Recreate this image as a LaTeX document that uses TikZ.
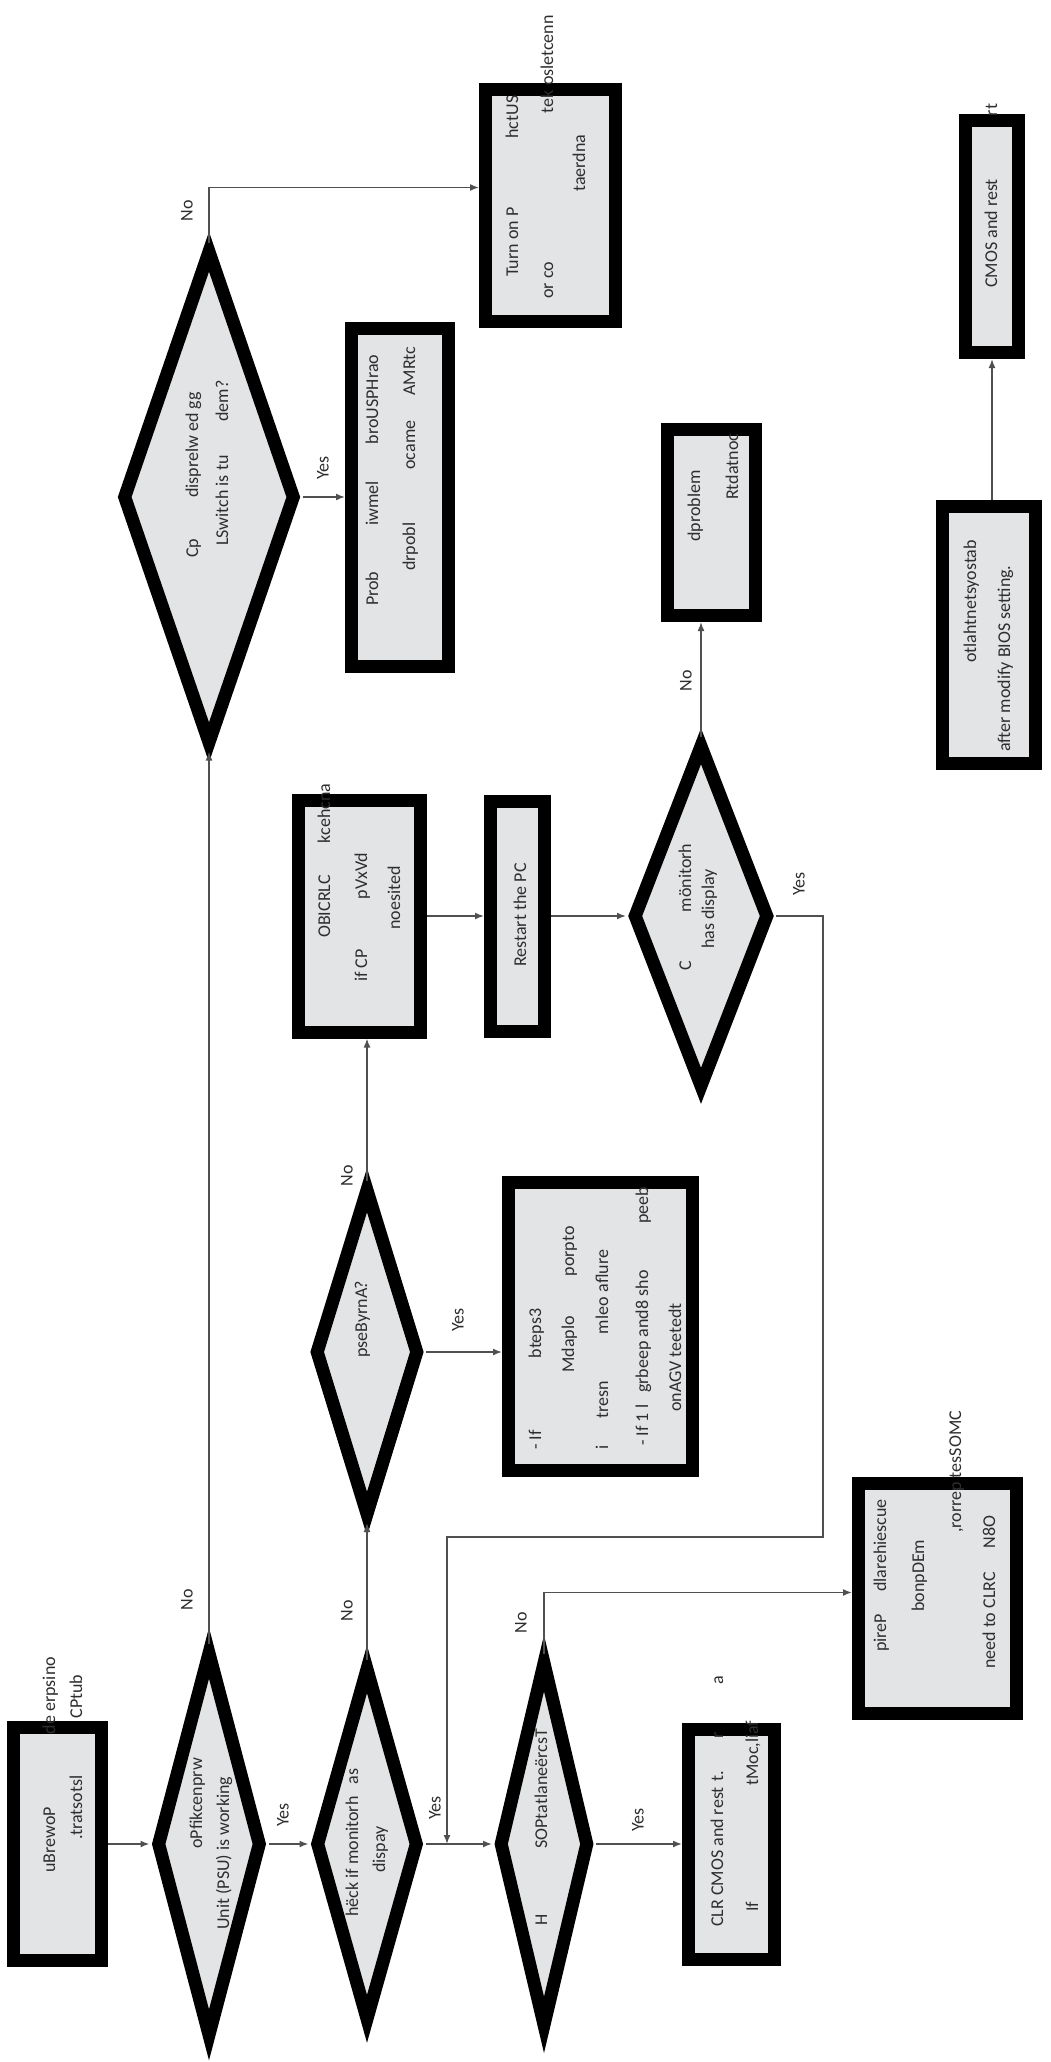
\documentclass[tikz,border=0pt]{standalone}
\usepackage{fontspec}
\setmainfont{Carlito}
\usetikzlibrary{shapes.geometric,arrows.meta}

\definecolor{boxfill}{HTML}{E3E4E6}
\definecolor{inkgray}{HTML}{2E2E2E}
\definecolor{wiregray}{HTML}{505050}

\tikzset{
  procbox/.style={draw=black, line width=13pt, fill=boxfill, inner sep=0pt},
  decision/.style={diamond, draw=black, line width=13pt, fill=boxfill, inner sep=0pt, aspect=1},
  txt/.style={rotate=90, anchor=base west, inner sep=0pt, text=inkgray, font=\fontsize{18}{20}\selectfont},
  lbl/.style={rotate=90, inner sep=0pt, text=inkgray, font=\fontsize{18}{20}\selectfont},
  conn/.style={draw=wiregray, line width=1.6pt, -{Latex[length=9pt,width=7pt]}}
}

\begin{document}
\begin{tikzpicture}[x=1pt,y=-1pt]
            {
    \def\rowy{1844}
    \def\rowb{916}

    \useasboundingbox (0,0) rectangle (1051,2062);

    % shapes
    \node[procbox, minimum width=88pt, minimum height=233pt] (power) at (57.5,\rowy) {};
    \node[decision, minimum width=106pt, minimum height=387pt] (psu) at (209,\rowy) {};
    \node[decision, minimum width=104pt, minimum height=355pt] (mon) at (367,\rowy) {};
    \node[decision, minimum width=91pt, minimum height=367pt] (sop) at (544,\rowy) {};
    \node[procbox, minimum width=86pt, minimum height=230pt] (clr) at (731.5,\rowy) {};
    \node[procbox, minimum width=158pt, minimum height=230pt] (oem) at (937.5,1598.5) {};
    \node[decision, minimum width=105pt, minimum height=329pt] (beepq) at (367,1352) {};
    \node[procbox, minimum width=184pt, minimum height=288pt] (beep) at (600.5,1326.5) {};
    \node[procbox, minimum width=122pt, minimum height=232pt] (cpu) at (359.5,\rowb) {};
    \node[procbox, minimum width=54pt, minimum height=230pt] (restart) at (517.5,\rowb) {};
    \node[decision, minimum width=137pt, minimum height=345pt] (dispq) at (701,\rowb) {};
    \node[procbox, minimum width=88pt, minimum height=186pt] (board) at (711.5,522.5) {};
    \node[decision, minimum width=174pt, minimum height=496pt] (switch) at (209,497) {};
    \node[procbox, minimum width=97pt, minimum height=338pt] (prob) at (400,497) {};
    \node[procbox, minimum width=130pt, minimum height=232pt] (turn) at (550.5,205.5) {};
    \node[procbox, minimum width=53pt, minimum height=232pt] (cmos) at (992,236.5) {};
    \node[procbox, minimum width=93pt, minimum height=257pt] (bios) at (989,635) {};

    % texts
    \node[txt] (powerA) at (55,1873) {uBrewoP\hspace{73pt}de erpsino};
    \node[txt] (powerB) at (82,1840) {.tratsotsl\hspace{57pt}CPtub};
    \node[txt] (psuA) at (202,1849) {oPfikcenprw};
    \node[txt] (psuB) at (229,1930) {Unit (PSU) is working};
    \node[txt] (monA) at (358,1917) {hëck if monitorh\hspace{12pt}as};
    \node[txt] (monB) at (385,1873) {dispay};
    \node[txt] (beepqA) at (367,1358) {pseByrnA?};
    \node[txt] (cpuA) at (330,938) {OBICRLC\hspace{32pt}kcehcna};
    \node[txt] (cpuB) at (367,982) {if CP\hspace{50pt}pVxVd};
    \node[txt] (cpuC) at (400,930) {noesited};
    \node[txt] (restartA) at (526,967) {Restart the PC};
    \node[txt] (dispqA) at (691,971) {C\hspace{49pt}mönitorh};
    \node[txt] (dispqB) at (714,949) {has display};
    \node[txt] (boardA) at (700,542) {dproblem};
    \node[txt] (boardB) at (738,500) {Rtdatnoc};
    \node[txt] (sopA) at (547,1926) {H\hspace{66pt}SOPtatlaneërcsT};
    \node[txt] (oemA) at (886,1652) {pireP\hspace{22pt}dlarehiescue};
    \node[txt] (oemB) at (924,1612) {bonpDEm};
    \node[txt] (oemC) at (961,1533) {,rorrep tesSOMC};
    \node[txt] (oemD) at (995,1669) {need to CLRC\hspace{24pt}N8O};
    \node[txt] (clrA) at (723,1927) {CLR CMOS and rest\hspace{6pt}t.\hspace{32pt}r\hspace{48pt}a};
    \node[txt] (clrB) at (758,1912) {If\hspace{116pt}tMoc,liaf};
    \node[txt] (beepA) at (541,1450) {- If\hspace{72pt}bteps3};
    \node[txt] (beepB) at (574,1373) {Mdaplo\hspace{40pt}porpto};
    \node[txt] (beepC) at (608,1450) {i\hspace{27pt}tresn\hspace{47pt}mleo\hspace{5pt}aflure};
    \node[txt] (beepD) at (648,1446) {- If 1 l\hspace{12pt}grbeep and8 sho\hspace{47pt}peeb};
    \node[txt] (beepE) at (681,1412) {onAGV teetedt};
    \node[txt] (switchA) at (198,558) {Cp\hspace{41pt}disprelw ed gg};
    \node[txt] (switchB) at (228,546) {LSwitch is tu\hspace{34pt}dem?};
    \node[txt] (probA) at (378,606) {Prob\hspace{46pt}iwmel\hspace{37pt}broUSPHrao};
    \node[txt] (probB) at (415,571) {drpobl\hspace{53pt}ocame\hspace{25pt}AMRtc};
    \node[txt] (turnA) at (518,277) {Turn on P\hspace{69pt}hctUS};
    \node[txt] (turnB) at (553,299) {or co\hspace{149pt}tek osletcenn};
    \node[txt] (turnC) at (585,192) {taerdna};
    \node[txt] (cmosA) at (997,288) {CMOS and rest\hspace{63pt}rt};
    \node[txt] (biosA) at (976,663) {otlahtnetsyostab};
    \node[txt] (biosB) at (1010,752) {after modify BIOS setting.};

    % yes / no
    \node[lbl] (psuYes) at (283,1815) {Yes};
    \node[lbl] (psuNo) at (187,1600) {No};
    \node[lbl] (switchYes) at (323,468) {Yes};
    \node[lbl] (switchNo) at (187,211) {No};
    \node[lbl] (monNo) at (347,1611) {No};
    \node[lbl] (monYes) at (435,1808) {Yes};
    \node[lbl] (beepqNo) at (347,1176) {No};
    \node[lbl] (beepqYes) at (458,1320) {Yes};
    \node[lbl] (dispqNo) at (686,681) {No};
    \node[lbl] (dispqYes) at (799,884) {Yes};
    \node[lbl] (sopNo) at (521,1623) {No};
    \node[lbl] (sopYes) at (638,1820) {Yes};

    \coordinate (loopA) at (823,1537);
    \coordinate (joinpt) at (447,\rowy);

    % connectors
    \draw[conn] (power.east) -- (psu.west);
    \draw[conn] (psu.east) -- (mon.west);
    \draw[conn] (mon.east) -- (sop.west);
    \draw[conn] (sop.east) -- (clr.west);
    \draw[conn] (psu.north) -- (switch.south);
    \draw[conn] (switch.east) -- (prob.west);
    \draw[conn] (switch.north) |- ([yshift=18pt]turn.west);
    \draw[conn] (mon.north) -- (beepq.south);
    \draw[conn] (beepq.north) -- (beepq.north |- cpu.south);
    \draw[conn] (beepq.east) -- (beepq.east -| beep.west);
    \draw[conn] (cpu.east) -- (restart.west);
    \draw[conn] (restart.east) -- (dispq.west);
    \draw[conn] (dispq.north) -- (dispq.north |- board.south);
    \draw[conn] (dispq.east) -| (loopA) -| (joinpt);
    \draw[conn] (sop.north) |- ([yshift=6pt]oem.west);
    \draw[conn] (cmos.south |- bios.north) -- (cmos.south);
}
\end{tikzpicture}
\end{document}
